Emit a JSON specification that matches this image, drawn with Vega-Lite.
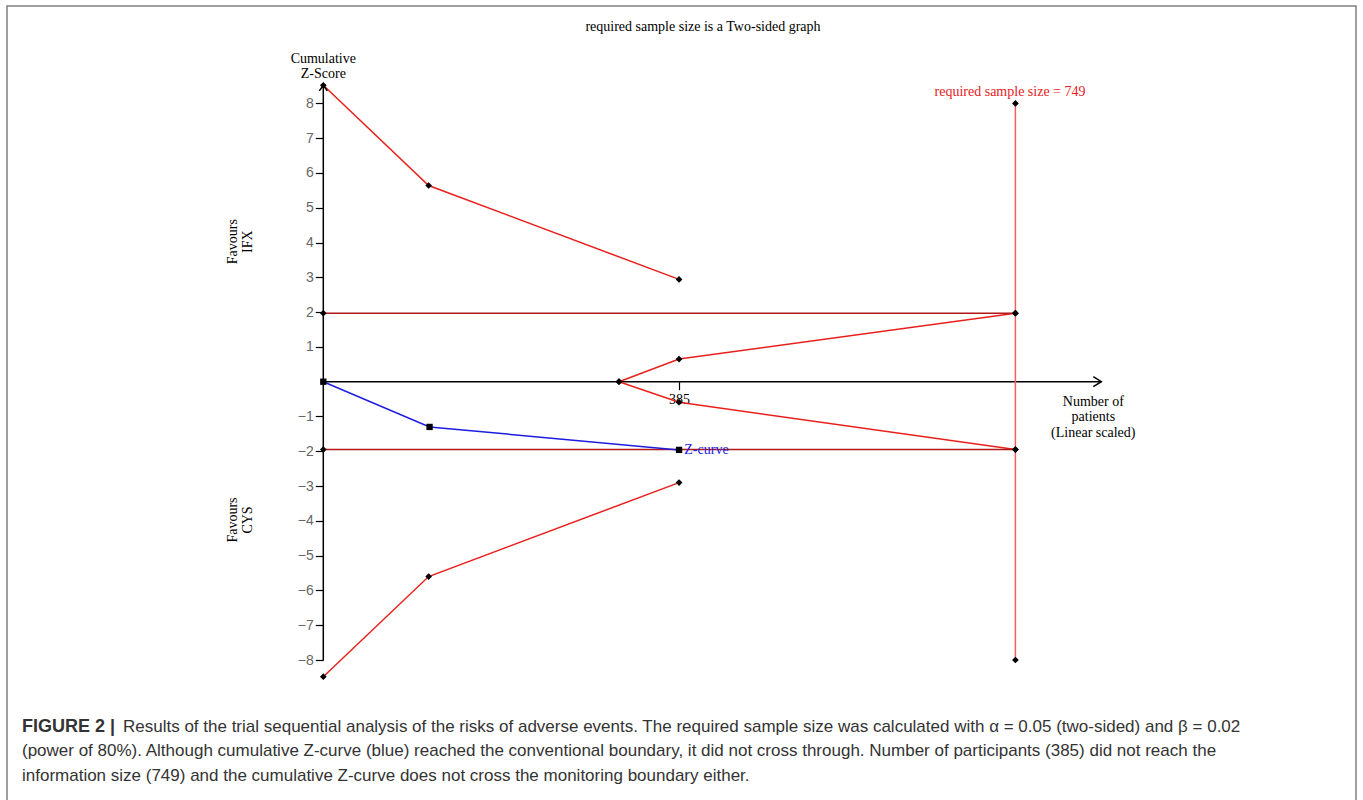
{
  "$schema": "https://vega.github.io/schema/vega-lite/v6.json",
  "width": 1349,
  "height": 800,
  "autosize": {"type": "none"},
  "padding": {"left": 7, "top": 6, "right": 7, "bottom": 0},
  "background": "white",
  "config": {"view": {"stroke": "#808080", "strokeWidth": 1.5}, "font": "Liberation Serif"},
  "datasets": {
    "lines": [
      {"s": "yaxis", "i": 0, "n": 0, "z": -8},
      {"s": "yaxis", "i": 1, "n": 0, "z": 8.52},
      {"s": "xaxis", "i": 0, "n": 0, "z": 0},
      {"s": "xaxis", "i": 1, "n": 842, "z": 0},
      {"s": "upper", "i": 0, "n": 0, "z": 8.52},
      {"s": "upper", "i": 1, "n": 114, "z": 5.64},
      {"s": "upper", "i": 2, "n": 385, "z": 2.94},
      {"s": "lower", "i": 0, "n": 0, "z": -8.48},
      {"s": "lower", "i": 1, "n": 114, "z": -5.6},
      {"s": "lower", "i": 2, "n": 385, "z": -2.9},
      {"s": "innerUp", "i": 0, "n": 320, "z": 0},
      {"s": "innerUp", "i": 1, "n": 385, "z": 0.65},
      {"s": "innerUp", "i": 2, "n": 749, "z": 1.97},
      {"s": "innerLow", "i": 0, "n": 320, "z": 0},
      {"s": "innerLow", "i": 1, "n": 385, "z": -0.59},
      {"s": "innerLow", "i": 2, "n": 749, "z": -1.95},
      {"s": "hUp", "i": 0, "n": 0, "z": 1.97},
      {"s": "hUp", "i": 1, "n": 749, "z": 1.97},
      {"s": "hLow", "i": 0, "n": 0, "z": -1.95},
      {"s": "hLow", "i": 1, "n": 749, "z": -1.95},
      {"s": "vert", "i": 0, "n": 749, "z": -8},
      {"s": "vert", "i": 1, "n": 749, "z": 8}
    ],
    "zcurve": [
      {"n": 0, "z": 0},
      {"n": 115, "z": -1.3},
      {"n": 385, "z": -1.96}
    ]
  },
  "encoding": {
    "x": {
      "field": "n", "type": "quantitative",
      "scale": {"domain": [-342.3, 1117.6], "nice": false, "zero": false},
      "axis": {"values": [385], "orient": "bottom", "offset": -424.3, "domain": false, "grid": false,
        "tickColor": "black", "tickSize": 8, "tickWidth": 1.2,
        "labelFont": "Liberation Serif", "labelFontSize": 14, "labelColor": "black", "labelPadding": 3, "title": null}
    },
    "y": {
      "field": "z", "type": "quantitative",
      "scale": {"domain": [-12.196, 10.799], "nice": false, "zero": false},
      "axis": {"values": [-8, -7, -6, -5, -4, -3, -2, -1, 1, 2, 3, 4, 5, 6, 7, 8], "orient": "left", "offset": -316.3,
        "domain": false, "grid": false, "tickColor": "black", "tickSize": 8, "tickWidth": 1.2,
        "labelFont": "Liberation Sans", "labelFontSize": 14, "labelColor": "#666", "labelPadding": 2, "title": null}
    }
  },
  "layer": [
    {
      "data": {"name": "lines"},
      "mark": {"type": "line", "strokeWidth": 1.5},
      "encoding": {
        "color": {"field": "s", "type": "nominal", "legend": null,
          "scale": {"domain": ["yaxis", "xaxis", "upper", "lower", "innerUp", "innerLow", "hUp", "hLow", "vert"],
            "range": ["#000000", "#000000", "#e8201c", "#e8201c", "#e8201c", "#e8201c", "#b01818", "#b01818", "#f06262"]}},
        "order": {"field": "i"}
      }
    },
    {
      "data": {"name": "zcurve"},
      "mark": {"type": "line", "strokeWidth": 1.5, "color": "#1c1ce0"},
      "encoding": {}
    },
    {
      "data": {"name": "lines"},
      "transform": [{"filter": "datum.s != 'yaxis' && datum.s != 'xaxis'"}],
      "mark": {"type": "point", "shape": "diamond", "filled": true, "color": "black", "opacity": 1, "size": 45},
      "encoding": {}
    },
    {
      "data": {"name": "zcurve"},
      "mark": {"type": "point", "shape": "square", "filled": true, "color": "black", "opacity": 1, "size": 40},
      "encoding": {}
    },
    {
      "data": {"values": [{"n": 0, "z": 8.52}]},
      "mark": {"type": "point", "shape": "M-1,1.4L0,0L1,1.4", "filled": false, "stroke": "black", "strokeWidth": 1.5, "opacity": 1, "size": 64},
      "encoding": {}
    },
    {
      "data": {"values": [{"n": 842, "z": 0}]},
      "mark": {"type": "point", "shape": "M-1.6,-1L0,0L-1.6,1", "filled": false, "stroke": "black", "strokeWidth": 1.5, "opacity": 1, "size": 100},
      "encoding": {}
    },
    {
      "data": {"values": [{"t": "required sample size is a Two-sided graph", "n": 410.9, "z": 10.195}]},
      "mark": {"type": "text", "font": "Liberation Serif", "fontSize": 14, "color": "black", "align": "center", "baseline": "middle"},
      "encoding": {"text": {"field": "t"}}
    },
    {
      "data": {"values": [{"t": ["Cumulative", "Z-Score"], "n": 0, "z": 9.276}]},
      "mark": {"type": "text", "font": "Liberation Serif", "fontSize": 14, "lineHeight": 15, "color": "black", "align": "center", "baseline": "middle"},
      "encoding": {"text": {"field": "t"}}
    },
    {
      "data": {"values": [{"t": "required sample size = 749", "n": 743.2, "z": 8.327}]},
      "mark": {"type": "text", "font": "Liberation Serif", "fontSize": 14, "color": "#e8201c", "align": "center", "baseline": "middle"},
      "encoding": {"text": {"field": "t"}}
    },
    {
      "data": {"values": [{"t": "Z-curve", "n": 390.7, "z": -1.96}]},
      "mark": {"type": "text", "font": "Liberation Serif", "fontSize": 14, "color": "#1c1ce0", "align": "left", "baseline": "middle"},
      "encoding": {"text": {"field": "t"}}
    },
    {
      "data": {"values": [{"t": ["Number of", "patients", "(Linear scaled)"], "n": 833.3, "z": -0.575}]},
      "mark": {"type": "text", "font": "Liberation Serif", "fontSize": 14, "lineHeight": 15.5, "color": "black", "align": "center", "baseline": "middle"},
      "encoding": {"text": {"field": "t"}}
    },
    {
      "data": {"values": [
        {"t": ["Favours", "IFX"], "n": -97.7, "z": 4.024},
        {"t": ["Favours", "CYS"], "n": -97.7, "z": -3.975}
      ]},
      "mark": {"type": "text", "font": "Liberation Serif", "fontSize": 14, "lineHeight": 15, "angle": 270, "color": "black", "align": "center", "baseline": "middle"},
      "encoding": {"text": {"field": "t"}}
    },
    {
      "data": {"values": [{"t": "FIGURE 2 |", "n": -326.1, "z": -9.925}]},
      "mark": {"type": "text", "font": "Liberation Sans", "fontSize": 18, "fontWeight": "bold", "color": "#333333", "align": "left", "baseline": "middle"},
      "encoding": {"text": {"field": "t"}}
    },
    {
      "data": {"values": [
        {"t": "Results of the trial sequential analysis of the risks of adverse events. The required sample size was calculated with α = 0.05 (two-sided) and β = 0.02", "n": -216.8, "z": -9.925},
        {"t": "(power of 80%). Although cumulative Z-curve (blue) reached the conventional boundary, it did not cross through. Number of participants (385) did not reach the", "n": -326.1, "z": -10.629},
        {"t": "information size (749) and the cumulative Z-curve does not cross the monitoring boundary either.", "n": -326.1, "z": -11.334}
      ]},
      "mark": {"type": "text", "font": "Liberation Sans", "fontSize": 17, "color": "#333333", "align": "left", "baseline": "middle"},
      "encoding": {"text": {"field": "t"}}
    }
  ]
}
